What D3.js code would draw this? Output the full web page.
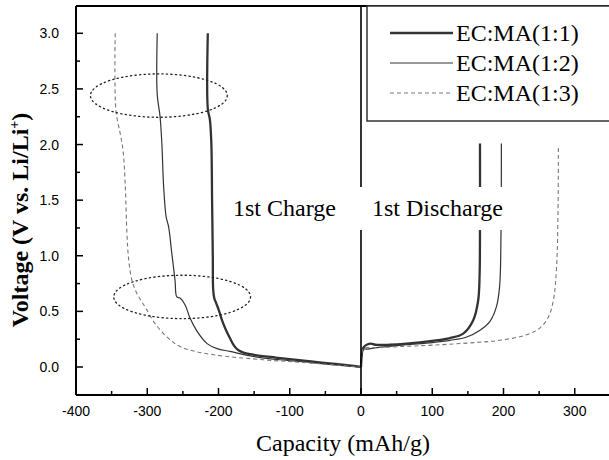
<!DOCTYPE html>
<html lang="en">
<head>
<meta charset="UTF-8">
<title>Charge / Discharge</title>
<script src="https://d3js.org/d3.v7.min.js"></script>
<style>
 body {margin: 0; padding: 0; background: #fff;}
 svg {display: block;}
</style>
</head>
<body>
<svg id="chart" width="609" height="460"></svg>
<script>
// charge curves (negative capacity = 1st charge)
const charge11Cap = [-215, -215, -212, -210, -209, -208, -207.5, -206, -203, -199, -195, -190, -184, -178, -172, -165, -150, -120, -100, -70, -40, -10, 0];
const charge11Volt = [3.0, 2.32, 2.22, 2.0, 1.5, 1.0, 0.70, 0.62, 0.57, 0.50, 0.42, 0.34, 0.26, 0.19, 0.15, 0.13, 0.11, 0.085, 0.07, 0.05, 0.03, 0.01, 0.0];

const charge12Cap = [-286, -286, -282, -279.5, -277, -273.5, -270, -265.5, -261, -258.5, -254, -247, -240, -230, -216, -202, -184, -151, -114, -70, -30, 0];
const charge12Volt = [3.0, 2.45, 2.25, 2.01, 1.62, 1.35, 1.26, 1.02, 0.78, 0.63, 0.62, 0.56, 0.44, 0.32, 0.21, 0.165, 0.14, 0.095, 0.065, 0.04, 0.015, 0.0];

const charge13Cap = [-345, -344, -338, -334, -331, -328.5, -326, -321.5, -314.5, -303, -289, -272.5, -258.5, -244.5, -207, -137, -80, -30, 0];
const charge13Volt = [3.0, 2.31, 2.1, 1.95, 1.65, 1.2, 0.96, 0.78, 0.66, 0.54, 0.39, 0.27, 0.20, 0.16, 0.11, 0.065, 0.04, 0.015, 0.0];

// discharge curves
const dis11Cap = [0, 2, 4, 8, 14, 20, 40, 64, 100, 125, 143.5, 157.5, 164.5, 166.5, 167, 167];
const dis11Volt = [0.0, 0.15, 0.18, 0.20, 0.21, 0.20, 0.2, 0.21, 0.235, 0.26, 0.30, 0.42, 0.60, 0.84, 1.3, 2.01];

const dis12Cap = [0, 2, 4, 10, 17, 40, 64, 100, 125, 148.5, 167, 181, 190, 194.5, 196.5, 197];
const dis12Volt = [0.0, 0.14, 0.16, 0.16, 0.17, 0.185, 0.20, 0.22, 0.24, 0.27, 0.33, 0.41, 0.54, 0.72, 1.2, 2.01];

const dis13Cap = [0, 2, 4, 20, 41, 111, 160, 195, 232.5, 251, 263, 270, 274.5, 276.5, 277];
const dis13Volt = [0.0, 0.15, 0.17, 0.175, 0.18, 0.2, 0.22, 0.24, 0.29, 0.35, 0.45, 0.60, 0.90, 1.4, 1.97];

const legendLabels = ['EC:MA(1:1)', 'EC:MA(1:2)', 'EC:MA(1:3)'];
const xTicks = [-400, -300, -200, -100, 0, 100, 200, 300];
const yTicks = [0, 0.5, 1.0, 1.5, 2.0, 2.5, 3.0];

const serif = "'Liberation Serif', 'Times New Roman', serif";
const sans = "'Liberation Sans', Arial, sans-serif";
const svg = d3.select('#chart');
const plotLeft = 76, plotTop = 6, plotBottom = 395;
const x = d3.scaleLinear().domain([-400, 360]).range([plotLeft, plotLeft + 760 * 0.7125]);
const y = d3.scaleLinear().domain([0, 3]).range([367, 33.3]);

const styles = [
  {stroke: '#333', width: 2.3, dash: null},
  {stroke: '#333', width: 1.2, dash: null},
  {stroke: '#777', width: 1.1, dash: '4,3'}
];

const series = [
  {cap: charge11Cap, volt: charge11Volt, s: 0},
  {cap: charge12Cap, volt: charge12Volt, s: 1},
  {cap: charge13Cap, volt: charge13Volt, s: 2},
  {cap: dis11Cap, volt: dis11Volt, s: 0},
  {cap: dis12Cap, volt: dis12Volt, s: 1},
  {cap: dis13Cap, volt: dis13Volt, s: 2}
];

const line = d3.line().x(d => x(d[0])).y(d => y(d[1])).curve(d3.curveCatmullRom.alpha(0.5));

series.forEach(sr => {
  const pts = sr.cap.map((c, i) => [c, sr.volt[i]]);
  const st = styles[sr.s];
  svg.append('path')
    .attr('d', line(pts))
    .attr('fill', 'none')
    .attr('stroke', st.stroke)
    .attr('stroke-width', st.width)
    .attr('stroke-dasharray', st.dash)
    .attr('stroke-linejoin', 'round');
});

// zero line
svg.append('line')
  .attr('x1', x(0)).attr('x2', x(0))
  .attr('y1', plotTop).attr('y2', plotBottom)
  .attr('stroke', '#000').attr('stroke-width', 1.6);

// white band behind the labels
svg.append('rect')
  .attr('x', 228).attr('y', 187).attr('width', 284).attr('height', 43)
  .attr('fill', '#fff');

svg.append('text').style('font-family', serif)
  .attr('x', 233).attr('y', 216).attr('font-size', 24)
  .text('1st Charge');
svg.append('text').style('font-family', serif)
  .attr('x', 372).attr('y', 216).attr('font-size', 24)
  .text('1st Discharge');

// dotted ellipses
const ellipses = [
  {cx: -283.7, cy: 2.44, rx: 96, ry: 0.195},
  {cx: -251, cy: 0.63, rx: 96, ry: 0.195}
];
ellipses.forEach(e => {
  svg.append('ellipse')
    .attr('cx', x(e.cx)).attr('cy', y(e.cy))
    .attr('rx', x(e.rx) - x(0)).attr('ry', y(0) - y(e.ry))
    .attr('fill', 'none').attr('stroke', '#222')
    .attr('stroke-width', 1.3).attr('stroke-dasharray', '1.3,3.2')
    .attr('stroke-linecap', 'round');
});

// frame
svg.append('line').attr('x1', plotLeft).attr('x2', 609).attr('y1', plotTop).attr('y2', plotTop)
  .attr('stroke', '#000').attr('stroke-width', 2);
svg.append('line').attr('x1', plotLeft).attr('x2', 609).attr('y1', plotBottom).attr('y2', plotBottom)
  .attr('stroke', '#000').attr('stroke-width', 2);
svg.append('line').attr('x1', plotLeft).attr('x2', plotLeft).attr('y1', plotTop).attr('y2', plotBottom)
  .attr('stroke', '#000').attr('stroke-width', 2);

// x ticks (inward)
const xMinor = d3.range(-350, 360, 100);
const gx = svg.append('g');
xTicks.forEach(t => {
  gx.append('line').attr('x1', x(t)).attr('x2', x(t)).attr('y1', plotBottom).attr('y2', plotBottom - 7)
    .attr('stroke', '#000').attr('stroke-width', 1.5);
  gx.append('text').style('font-family', sans).attr('font-size', 14)
    .attr('x', x(t)).attr('y', 416).attr('text-anchor', 'middle')
    .text(t);
});
xMinor.forEach(t => {
  gx.append('line').attr('x1', x(t)).attr('x2', x(t)).attr('y1', plotBottom).attr('y2', plotBottom - 4)
    .attr('stroke', '#000').attr('stroke-width', 1.5);
});

// y ticks (inward)
const gy = svg.append('g');
yTicks.forEach(t => {
  gy.append('line').attr('x1', plotLeft).attr('x2', plotLeft + 7).attr('y1', y(t)).attr('y2', y(t))
    .attr('stroke', '#000').attr('stroke-width', 1.5);
  gy.append('text').style('font-family', sans).attr('font-size', 14)
    .attr('x', 59).attr('y', y(t) + 5).attr('text-anchor', 'end')
    .text(d3.format('.1f')(t));
});
d3.range(0.25, 3.25, 0.5).forEach(t => {
  gy.append('line').attr('x1', plotLeft).attr('x2', plotLeft + 4).attr('y1', y(t)).attr('y2', y(t))
    .attr('stroke', '#000').attr('stroke-width', 1.5);
});

// axis titles
svg.append('text').style('font-family', serif)
  .attr('x', 343).attr('y', 451).attr('text-anchor', 'middle').attr('font-size', 24)
  .text('Capacity (mAh/g)');

const yt = svg.append('text').style('font-family', serif)
  .attr('transform', 'translate(28,220) rotate(-90)')
  .attr('text-anchor', 'middle').attr('font-size', 24).attr('font-weight', 'bold');
yt.append('tspan').text('Voltage (V vs. Li/Li');
yt.append('tspan').attr('dy', -9).attr('font-size', 14).text('+');
yt.append('tspan').attr('dy', 9).text(')');

// legend
const lg = svg.append('g');
lg.append('rect').attr('x', 367).attr('y', 6).attr('width', 245).attr('height', 115)
  .attr('fill', '#fff').attr('stroke', '#333').attr('stroke-width', 1.5);
legendLabels.forEach((lab, i) => {
  const ly = 33 + i * 30;
  const st = styles[i];
  lg.append('line').attr('x1', 390).attr('x2', 453).attr('y1', ly).attr('y2', ly)
    .attr('stroke', st.stroke).attr('stroke-width', st.width).attr('stroke-dasharray', st.dash);
  lg.append('text').style('font-family', serif)
    .attr('x', 456).attr('y', ly + 8).attr('font-size', 24)
    .text(lab);
});
</script>
</body>
</html>
